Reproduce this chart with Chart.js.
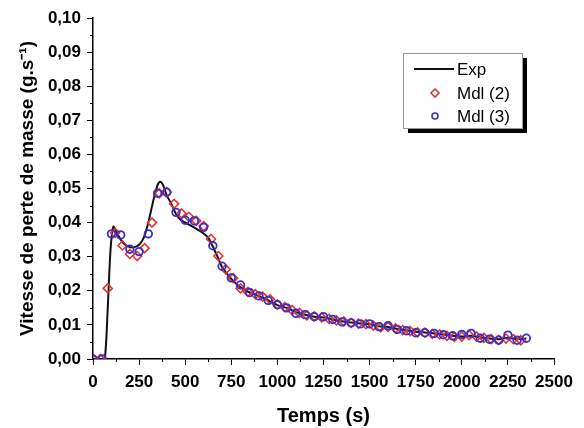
<!DOCTYPE html>
<html>
<head>
<meta charset="utf-8">
<script src="https://cdn.jsdelivr.net/npm/chart.js@4.4.1/dist/chart.umd.min.js"></script>
<style>
html, body { margin: 0; padding: 0; background: #fff; }
#wrap { width: 584px; height: 428px; }
</style>
</head>
<body>
<div id="wrap"><canvas id="graf"></canvas></div>
<script>
// Exp (courbe)
var expTemps = [0, 50, 65, 80, 95, 110, 125, 150, 175, 200, 225, 250, 275, 300, 325, 350, 365, 380, 400, 425, 450, 475, 500, 550, 600, 625, 650, 675, 700, 750, 800, 850, 900, 950, 1000, 1050, 1100, 1150, 1200, 1250, 1300, 1350, 1400, 1450, 1500, 1550, 1600, 1650, 1700, 1750, 1800, 1850, 1900, 1950, 2000, 2050, 2100, 2150, 2200, 2250, 2300, 2350];
var expVitesse = [0, 0, 0.0005, 0.015, 0.032, 0.0388, 0.0375, 0.035, 0.0335, 0.0328, 0.0328, 0.0335, 0.0355, 0.040, 0.046, 0.051, 0.052, 0.051, 0.048, 0.0455, 0.0425, 0.0408, 0.040, 0.0385, 0.0368, 0.0355, 0.033, 0.030, 0.027, 0.0235, 0.021, 0.0195, 0.0185, 0.0172, 0.0158, 0.015, 0.0138, 0.013, 0.0124, 0.0122, 0.0116, 0.0111, 0.0107, 0.0104, 0.0102, 0.0096, 0.0094, 0.0088, 0.0084, 0.008, 0.0078, 0.0075, 0.0072, 0.0068, 0.0066, 0.0068, 0.0063, 0.006, 0.0058, 0.0062, 0.0058, 0.006];

// Mdl (2) - losanges rouges
var mdl2Temps = [0, 40, 80, 120, 160, 200, 240, 280, 320, 360, 400, 440, 480, 520, 560, 600, 640, 680, 720, 760, 800, 840, 880, 920, 960, 1000, 1040, 1080, 1120, 1160, 1200, 1240, 1280, 1320, 1360, 1400, 1440, 1480, 1520, 1560, 1600, 1640, 1680, 1720, 1760, 1800, 1840, 1880, 1920, 1960, 2000, 2040, 2080, 2120, 2160, 2200, 2240, 2280, 2320];
var mdl2Vitesse = [0, 0, 0.0207, 0.037, 0.0333, 0.0308, 0.0302, 0.0325, 0.040, 0.0486, 0.0489, 0.0455, 0.0427, 0.0417, 0.0405, 0.039, 0.0352, 0.0302, 0.0263, 0.0237, 0.0207, 0.0197, 0.019, 0.0183, 0.0175, 0.016, 0.0152, 0.0143, 0.0135, 0.0128, 0.0125, 0.0122, 0.0118, 0.0113, 0.011, 0.0106, 0.0104, 0.0102, 0.0098, 0.0093, 0.0094, 0.009, 0.0085, 0.0082, 0.0078, 0.0077, 0.0074, 0.0072, 0.0068, 0.0065, 0.0066, 0.007, 0.0066, 0.0062, 0.0058, 0.0056, 0.006, 0.0058, 0.0055];

// Mdl (3) - cercles bleus
var mdl3Temps = [0, 50, 100, 150, 200, 250, 300, 350, 400, 450, 500, 550, 600, 650, 700, 750, 800, 850, 900, 950, 1000, 1050, 1100, 1150, 1200, 1250, 1300, 1350, 1400, 1450, 1500, 1550, 1600, 1650, 1700, 1750, 1800, 1850, 1900, 1950, 2000, 2050, 2100, 2150, 2200, 2250, 2300, 2350];
var mdl3Vitesse = [0, 0, 0.0367, 0.0364, 0.0322, 0.0315, 0.0367, 0.0486, 0.0489, 0.043, 0.0407, 0.0405, 0.0386, 0.0332, 0.0272, 0.0238, 0.0217, 0.0195, 0.0185, 0.0172, 0.0159, 0.015, 0.0134, 0.013, 0.0124, 0.0124, 0.0116, 0.0109, 0.0106, 0.0103, 0.0103, 0.0095, 0.0098, 0.0087, 0.0083, 0.0077, 0.0077, 0.0075, 0.0071, 0.0068, 0.0072, 0.0075, 0.0061, 0.0058, 0.0055, 0.007, 0.0055, 0.0061];

var xTicks = [0, 250, 500, 750, 1000, 1250, 1500, 1750, 2000, 2250, 2500];
var yTicks = [0, 0.01, 0.02, 0.03, 0.04, 0.05, 0.06, 0.07, 0.08, 0.09, 0.10];

function points(tx, vy)
{
    var res = [];
    for (var i = 0; i < tx.length; i++)
        res.push({ x: tx[i], y: vy[i] });
    return res;
}

function virgule(v)
{
    return v.toFixed(2).replace('.', ',');
}

// petits traits secondaires sur les axes
var minorTicks = {
    id: 'minorTicks',
    afterDraw: function (chart)
    {
        var ctx = chart.ctx;
        var xs = chart.scales.x, ys = chart.scales.y;
        ctx.save();
        ctx.strokeStyle = '#000';
        ctx.lineWidth = 1;
        ctx.beginPath();
        for (var i = 0; i < yTicks.length - 1; i++)
        {
            var py = Math.round(ys.getPixelForValue((yTicks[i] + yTicks[i + 1]) / 2)) + 0.5;
            ctx.moveTo(xs.left, py);
            ctx.lineTo(xs.left - 3, py);
        }
        for (var j = 0; j < xTicks.length - 1; j++)
        {
            var px = Math.round(xs.getPixelForValue((xTicks[j] + xTicks[j + 1]) / 2)) + 0.5;
            ctx.moveTo(px, ys.bottom);
            ctx.lineTo(px, ys.bottom + 3);
        }
        ctx.stroke();
        ctx.restore();
    }
};

// legende encadree avec ombre
var boiteLegende = {
    id: 'boiteLegende',
    afterDraw: function (chart)
    {
        var ctx = chart.ctx;
        var x0 = 403, y0 = 53, w = 119, h = 75;
        ctx.save();
        ctx.fillStyle = '#000';
        ctx.fillRect(x0 + 5, y0 + 5, w, h);
        ctx.fillStyle = '#fff';
        ctx.fillRect(x0, y0, w, h);
        ctx.strokeStyle = '#999';
        ctx.lineWidth = 1;
        ctx.strokeRect(x0 + 0.5, y0 + 0.5, w, h);

        var ds = chart.data.datasets;
        ctx.font = '17px "Liberation Sans", Arial, sans-serif';
        ctx.textBaseline = 'middle';
        ctx.fillStyle = '#000';

        ctx.strokeStyle = ds[0].borderColor;
        ctx.lineWidth = 2;
        ctx.beginPath();
        ctx.moveTo(414, 69);
        ctx.lineTo(454, 69);
        ctx.stroke();
        ctx.fillText(ds[0].label, 457, 70);

        ctx.strokeStyle = ds[1].borderColor;
        ctx.lineWidth = 1.6;
        ctx.beginPath();
        ctx.moveTo(435, 89); ctx.lineTo(439, 93); ctx.lineTo(435, 97); ctx.lineTo(431, 93); ctx.closePath();
        ctx.stroke();
        ctx.fillText(ds[1].label, 457, 94);

        ctx.strokeStyle = ds[2].borderColor;
        ctx.beginPath();
        ctx.arc(435, 116, 3, 0, Math.PI * 2);
        ctx.stroke();
        ctx.fillText(ds[2].label, 457, 117);
        ctx.restore();
    }
};

var police = '"Liberation Sans", Arial, sans-serif';

var graf = new Chart(document.getElementById('graf').getContext('2d'), {
    type: 'scatter',
    data: {
        datasets: [
            {
                label: 'Exp',
                data: points(expTemps, expVitesse),
                showLine: true,
                borderColor: '#111',
                borderWidth: 2,
                pointRadius: 0,
                tension: 0.3,
                order: 3
            },
            {
                label: 'Mdl (2)',
                data: points(mdl2Temps, mdl2Vitesse),
                pointStyle: 'rectRot',
                pointRadius: 4.5,
                borderColor: '#e3342f',
                backgroundColor: 'rgba(255,255,255,0)',
                borderWidth: 1.6,
                order: 2
            },
            {
                label: 'Mdl (3)',
                data: points(mdl3Temps, mdl3Vitesse),
                pointStyle: 'circle',
                pointRadius: 3.8,
                borderColor: '#3a2fc4',
                backgroundColor: 'rgba(255,255,255,0)',
                borderWidth: 1.8,
                order: 1
            }
        ]
    },
    options: {
        responsive: true,
        maintainAspectRatio: false,
        animation: false,
        layout: { padding: { top: 18, right: 30, bottom: 0, left: 0 } },
        plugins: {
            legend: { display: false },
            tooltip: { enabled: false }
        },
        scales: {
            x: {
                type: 'linear',
                min: 0,
                max: 2500,
                afterBuildTicks: function (axis) { axis.ticks = xTicks.map(function (v) { return { value: v }; }); },
                afterFit: function (axis) { axis.height = 69; },
                grid: { drawOnChartArea: false, color: '#000', tickLength: 6, tickColor: '#000' },
                border: { color: '#000', width: 1.5 },
                ticks: { color: '#000', font: { family: police, size: 17, weight: 'bold' }, padding: 7, maxRotation: 0, callback: function (v) { return String(v); } },
                title: { display: true, text: 'Temps (s)', color: '#000', font: { family: police, size: 20, weight: 'bold' }, padding: { top: 0, bottom: 0 } }
            },
            y: {
                type: 'linear',
                min: 0,
                max: 0.10,
                afterBuildTicks: function (axis) { axis.ticks = yTicks.map(function (v) { return { value: v }; }); },
                afterFit: function (axis) { axis.width = 93; },
                grid: { drawOnChartArea: false, color: '#000', tickLength: 6, tickColor: '#000' },
                border: { color: '#000', width: 1.5 },
                ticks: { color: '#000', font: { family: police, size: 17, weight: 'bold' }, padding: 6, callback: function (v) { return virgule(v); } },
                title: { display: true, text: 'Vitesse de perte de masse (g.s\u207B\u00B9)', color: '#000', font: { family: police, size: 19, weight: 'bold' }, padding: { top: 16, bottom: 0 } }
            }
        }
    },
    plugins: [minorTicks, boiteLegende]
});
</script>
</body>
</html>
